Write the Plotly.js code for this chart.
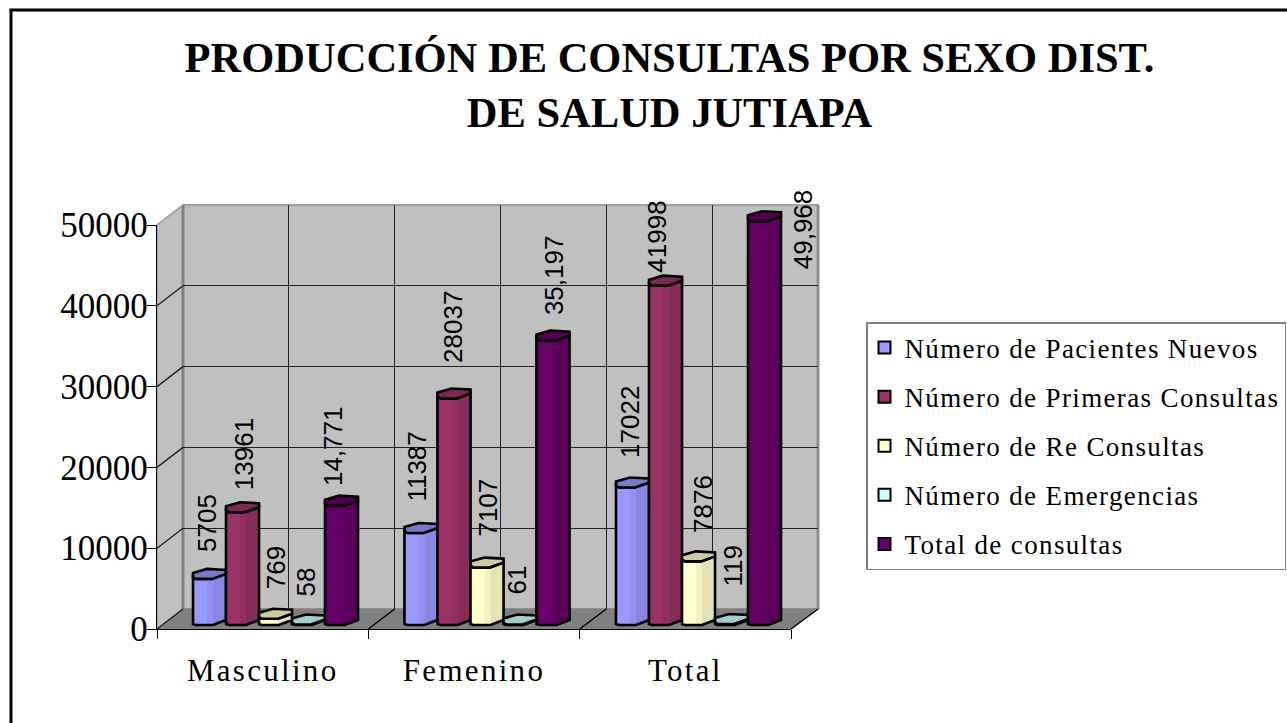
<!DOCTYPE html>
<html><head><meta charset="utf-8">
<script src="https://cdn.plot.ly/plotly-3.0.1.min.js"></script>
<style>html,body{margin:0;padding:0;background:#fff;overflow:hidden}
.legendtext{letter-spacing:1.36px}
.xtick text{letter-spacing:2.3px}
</style></head>
<body><div id="chart" style="width:1287px;height:723px"></div>
<script>
// ---- data ----
const categories = ["Masculino", "Femenino", "Total"];
const seriesNames = ["Número de Pacientes Nuevos", "Número de Primeras Consultas", "Número de Re Consultas", "Número de Emergencias", "Total de consultas"];
const pacientesNuevos = [5705, 11387, 17022];
const primerasConsultas = [13961, 28037, 41998];
const reConsultas = [769, 7107, 7876];
const emergencias = [58, 61, 119];
const totalConsultas = [14771, 35197, 49968];
const labelsNuevos = ["5705", "11387", "17022"];
const labelsPrimeras = ["13961", "28037", "41998"];
const labelsRe = ["769", "7107", "7876"];
const labelsEmergencias = ["58", "61", "119"];
const labelsTotal = ["14,771", "35,197", "49,968"];
// ---- styles ----
const fills = ["#9999FF", "#993366", "#FFFFCC", "#CCFFFF", "#660066"];
const capFills = ["#7A7ACC", "#7A2952", "#CCCCA3", "#A3CCCC", "#520052"];
const labelDx = [[-2.5,-4.4,-2.5],[1.5,-1,-8.5],[0.5,1,4.5],[-2.5,-3,1.5],[-8.5,0.5,38.5]];
const labelDy = [[20,24,22.5],[15,28.5,6],[22,24,21.4],[20.5,22.5,30],[12.6,18,-55]];
const W = 1287, H = 723;
const fx = p => p / W, fy = p => 1 - p / H;
// 3D box geometry (pixels)
const F = {l:157, r:791, t:225, b:629};   // front plane
const B = {l:183, r:818, t:205, b:609};   // back plane
const barBaseY = 620, barTopY = 216, groupW = 211.5, firstGroupCx = 275.5, barPx = 33;
const barL = firstGroupCx - groupW/2, barR = barL + 3*groupW;
const pxPerUnit = (barBaseY - barTopY) / 50000;
const barYmin = -(640 - barBaseY)/pxPerUnit, barYmax = (barBaseY - 170)/pxPerUnit;

const seriesValues = [pacientesNuevos, primerasConsultas, reConsultas, emergencias, totalConsultas];
const seriesLabels = [labelsNuevos, labelsPrimeras, labelsRe, labelsEmergencias, labelsTotal];

const traces = [{
  type:'scatter', mode:'markers', x:categories, y:categories.map(()=>0), xaxis:'x', yaxis:'y',
  marker:{opacity:0}, showlegend:false, hoverinfo:'skip'
},{type:'scatter', mode:'markers', x:[0,3], y:[0,50000], xaxis:'x2', yaxis:'y2', marker:{opacity:0}, showlegend:false, hoverinfo:'skip'}];
seriesValues.forEach((vals,s)=>{
  traces.push({
    type:'bar', name:seriesNames[s], x:categories.map((_,i)=>i+0.5), y:vals, xaxis:'x3', yaxis:'y3',
    legendgroup:'g'+s, marker:{color:fills[s], line:{color:'#000', width:2}}, hoverinfo:'y'
  });
});

const shapes = [];
const paper = (o)=>Object.assign({xref:'paper', yref:'paper'}, o);
const P = (x,y)=>fx(x).toFixed(5)+','+fy(y).toFixed(5);
const poly = pts=>'M'+pts.map(p=>P(p[0],p[1])).join('L')+'Z';
// chart frame: only the left and top edges fall inside the picture
shapes.push(paper({type:'line', x0:fx(11), x1:fx(11), y0:fy(9), y1:fy(723), line:{color:'#000',width:3}, layer:'below'}));
shapes.push(paper({type:'line', x0:fx(9.5), x1:fx(1287), y0:fy(10), y1:fy(10), line:{color:'#000',width:3}, layer:'below'}));
// walls and floor
shapes.push(paper({type:'path', path:poly([[F.l,F.t],[B.l,B.t],[B.l,B.b],[F.l,F.b]]), fillcolor:'#C0C0C0', line:{color:'#A0A0A0',width:1.5}, layer:'below'}));
shapes.push(paper({type:'rect', x0:fx(B.l), x1:fx(B.r), y0:fy(B.b), y1:fy(B.t), fillcolor:'#C0C0C0', line:{color:'#A0A0A0',width:2}, layer:'below'}));
shapes.push(paper({type:'line', x0:fx(B.l), x1:fx(B.l), y0:fy(B.b), y1:fy(B.t), line:{color:'#808080',width:3}, layer:'below'}));
shapes.push(paper({type:'line', x0:fx(B.r), x1:fx(B.r), y0:fy(B.b), y1:fy(B.t), line:{color:'#909090',width:3}, layer:'below'}));
shapes.push(paper({type:'path', path:poly([[F.l,F.b],[B.l,B.b],[B.r,B.b],[F.r,F.b]]), fillcolor:'#808080', line:{color:'#808080',width:1}, layer:'below'}));
for (let k=0;k<=5;k++){
  const f = k/5, yF = F.b+(F.t-F.b)*f, yB = B.b+(B.t-B.b)*f;
  const col = (k===5)?'#A0A0A0':'#222';
  shapes.push(paper({type:'line', x0:fx(F.l), x1:fx(B.l), y0:fy(yF), y1:fy(yB), line:{color:col,width:1.4}}));
}
for (let k=1;k<=3;k++){
  const f=k/3;
  shapes.push(paper({type:'line', x0:fx(F.l+(F.r-F.l)*f), x1:fx(B.l+(B.r-B.l)*f), y0:fy(F.b), y1:fy(B.b), line:{color:'#000',width:1.4}}));
}
const X = (g,s,dx)=> g + 0.5 + (s-2.5)*barPx/groupW + dx/groupW;
const Y = (v,dy)=> v + dy/pxPerUnit;
const path = pts=>'M'+pts.map(p=>p[0].toFixed(5)+','+p[1].toFixed(2)).join('L')+'Z';
const outline = 2.6;
categories.forEach((_,g)=>{
  seriesValues.forEach((vals,s)=>{
    const v = vals[g];
    const dataShape = o=>Object.assign({type:'path', xref:'x3', yref:'y3', layer:'above'}, o);
    shapes.push(dataShape({path:path([
      [X(g,s,0),Y(v,-3)],[X(g,s,0),Y(0,-4)],[X(g,s,3),Y(0,-5)],[X(g,s,20),Y(0,-5)],[X(g,s,barPx),Y(0,0)],[X(g,s,barPx),Y(v,0)],[X(g,s,19),Y(v,-5)],[X(g,s,3),Y(v,-5)]
    ]), fillcolor:fills[s], line:{color:'#000',width:outline}}));
    if (v > 400){
      shapes.push(dataShape({path:path([[X(g,s,14),Y(v,-5)],[X(g,s,14),Y(0,-4)],[X(g,s,20),Y(0,-4)],[X(g,s,20),Y(v,-5)]]), fillcolor:'rgba(0,0,0,0.05)', line:{width:0}}));
      shapes.push(dataShape({path:path([[X(g,s,20),Y(v,-4)],[X(g,s,20),Y(0,-4)],[X(g,s,barPx-1.5),Y(0,0)],[X(g,s,barPx-1.5),Y(v,0)]]), fillcolor:'rgba(0,0,0,0.11)', line:{width:0}}));
    }
    shapes.push(dataShape({path:path([
      [X(g,s,0),Y(v,1)],[X(g,s,14),Y(v,5)],[X(g,s,barPx),Y(v,4)],[X(g,s,barPx),Y(v,0)],[X(g,s,19),Y(v,-5)],[X(g,s,3),Y(v,-5)],[X(g,s,0),Y(v,-3)]
    ]), fillcolor:capFills[s], line:{color:'#000',width:outline}}));
  });
});

const annotations = [];
seriesValues.forEach((vals,s)=>{
  vals.forEach((v,g)=>{
    annotations.push({xref:'x3', yref:'y3', x:X(g,s,barPx/2), y:v, text:seriesLabels[s][g], showarrow:false,
      textangle:-90, xanchor:'center', yanchor:'bottom', xshift:labelDx[s][g], yshift:labelDy[s][g],
      font:{family:'"Liberation Sans", Arial, sans-serif', size:26, color:'#000'}});
  });
});

const serif = '"Liberation Serif", "Times New Roman", serif';
const layout = {
  width:W, height:H, margin:{l:0,r:0,t:0,b:0,pad:0}, paper_bgcolor:'#fff', plot_bgcolor:'rgba(0,0,0,0)',
  barmode:'group', bargap:0.22, bargroupgap:0, hovermode:false,
  title:{text:'PRODUCCIÓN DE CONSULTAS POR SEXO DIST.<br>DE SALUD JUTIAPA', x:669.5/W, xanchor:'center', y:1-72/H, yanchor:'top',
    font:{family:serif, size:42.5, color:'#000', weight:'bold'}},
  xaxis:{domain:[fx(F.l),fx(F.r)], type:'category', categoryorder:'array', categoryarray:categories, range:[-0.5,2.5], tickson:'boundaries',
    ticks:'outside', ticklen:9, tickwidth:1.4, tickcolor:'#000', showline:true, linecolor:'#000', linewidth:1.4, showgrid:false, zeroline:false,
    tickfont:{family:serif, size:31, color:'#000'}, ticklabelstandoff:14, anchor:'y', fixedrange:true},
  yaxis:{domain:[fy(F.b),fy(F.t)], range:[0,50000], tickvals:[0,10000,20000,30000,40000,50000], ticktext:['0','10000','20000','30000','40000','50000'],
    ticks:'outside', ticklen:9, tickwidth:1.4, tickcolor:'#000', showline:true, linecolor:'#000', linewidth:1.4, showgrid:false, zeroline:false,
    tickfont:{family:serif, size:35, color:'#000'}, ticklabelstandoff:-8, anchor:'x', fixedrange:true},
  xaxis2:{domain:[fx(B.l),fx(B.r)], range:[0,3], dtick:0.5, tick0:0, showticklabels:false, ticks:'', showgrid:true, gridcolor:'#222', gridwidth:1.4, zeroline:false, showline:false, anchor:'y2', fixedrange:true},
  yaxis2:{domain:[fy(B.b),fy(B.t)], range:[0,50000], dtick:10000, showticklabels:false, ticks:'', showgrid:true, gridcolor:'#222', gridwidth:1.4, zeroline:false, showline:false, anchor:'x2', fixedrange:true},
  xaxis3:{domain:[fx(barL),fx(barR)], range:[0,3], visible:false, anchor:'y3', fixedrange:true},
  yaxis3:{domain:[fy(640),fy(170)], range:[barYmin,barYmax], visible:false, anchor:'x3', fixedrange:true},
  legend:{x:fx(866), y:fy(322), xanchor:'left', yanchor:'top', bgcolor:'#fff', bordercolor:'#808080', borderwidth:1.5,
    font:{family:serif, size:27, color:'#000'}, traceorder:'grouped', tracegroupgap:11, itemwidth:30, indentation:-3,
    itemclick:false, itemdoubleclick:false},
  showlegend:true, shapes, annotations
};
Plotly.newPlot('chart', traces, layout, {displayModeBar:false, responsive:false});
</script></body></html>
